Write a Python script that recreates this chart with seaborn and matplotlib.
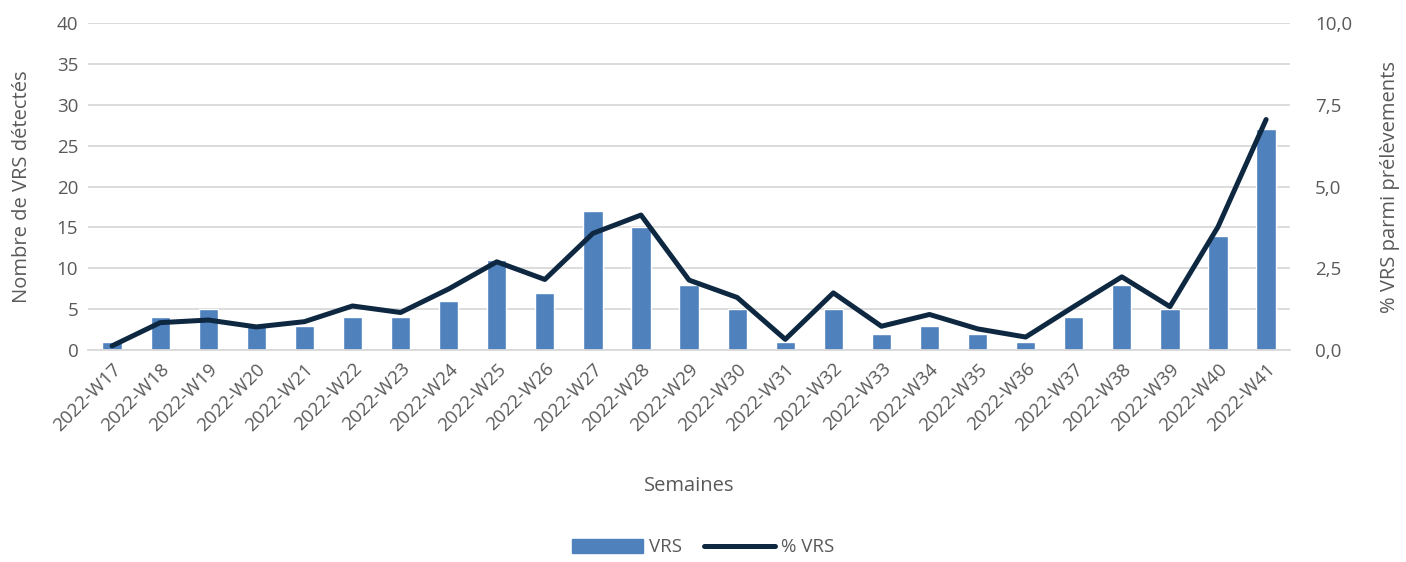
import matplotlib
matplotlib.use('Agg')
import matplotlib.pyplot as plt
import seaborn as sns
import numpy as np
import pandas as pd
from matplotlib.lines import Line2D
from matplotlib.patches import Patch

weeks = ['2022-W%d' % w for w in range(17, 42)]
vrs = [1, 4, 5, 3, 3, 4, 4, 6, 11, 7, 17, 15, 8, 5, 1, 5, 2, 3, 2, 1, 4, 8, 5, 14, 27]
pct_vrs = [0.13, 0.84, 0.92, 0.71, 0.87, 1.35, 1.15, 1.87, 2.70, 2.16, 3.57, 4.13, 2.14,
           1.61, 0.33, 1.75, 0.73, 1.09, 0.65, 0.40, 1.33, 2.24, 1.33, 3.77, 7.05]

df = pd.DataFrame({'Semaine': weeks, 'VRS': vrs, 'pct': pct_vrs})

sns.set_style('white')
plt.rcParams['font.family'] = ['Open Sans', 'DejaVu Sans']
grey = '#595959'
bar_col = '#4F81BD'
line_col = '#0E2841'

fig = plt.figure(figsize=(14.06, 5.62), dpi=100)
ax = fig.add_axes([0.0626, 0.377, 0.855, 0.582])

sns.barplot(data=df, x='Semaine', y='VRS', color=bar_col, width=0.4,
            saturation=1, ax=ax)
ax.set_ylim(0, 40)
ax.set_yticks(range(0, 41, 5))
ax.yaxis.grid(True, color='#d9d9d9', lw=1.3)
ax.set_axisbelow(True)
for s in ['top', 'right', 'left']:
    ax.spines[s].set_visible(False)
ax.spines['bottom'].set_color('#d9d9d9')
ax.spines['bottom'].set_linewidth(1.3)
ax.tick_params(axis='both', length=0, colors=grey, labelsize=13.5, pad=7)
plt.setp(ax.get_xticklabels(), rotation=45, ha='right', rotation_mode='anchor')
ax.set_xlabel('Semaines', color=grey, fontsize=14.5, labelpad=30)
ax.set_ylabel('Nombre de VRS détectés', color=grey, fontsize=14.5, labelpad=18)

ax2 = ax.twinx()
sns.pointplot(data=df, x='Semaine', y='pct', color=line_col, marker='',
              lw=3.6, ax=ax2)
ax2.set_ylim(0, 10)
ax2.set_yticks([0, 2.5, 5, 7.5, 10])
ax2.set_yticklabels(['0,0', '2,5', '5,0', '7,5', '10,0'])
ax2.tick_params(axis='y', length=0, colors=grey, labelsize=13.5, pad=18)
for s in ['top', 'right', 'left', 'bottom']:
    ax2.spines[s].set_visible(False)
ax2.set_ylabel('% VRS parmi prélèvements', color=grey, fontsize=14.5, labelpad=20)
ax2.set_xlim(-0.5, len(weeks) - 0.5)
ax.set_xlim(-0.5, len(weeks) - 0.5)

handles = [Patch(color=bar_col), Line2D([0], [0], color=line_col, lw=3.6,
                                         solid_capstyle='round')]
fig.legend(handles, ['VRS', '% VRS'], loc='lower center', ncol=2, frameon=False,
           bbox_to_anchor=(0.5, -0.02), fontsize=13.5, labelcolor=grey,
           handlelength=3.8, handleheight=0.75, columnspacing=1.2, handletextpad=0.3)

fig.savefig('out.png', dpi=100)
